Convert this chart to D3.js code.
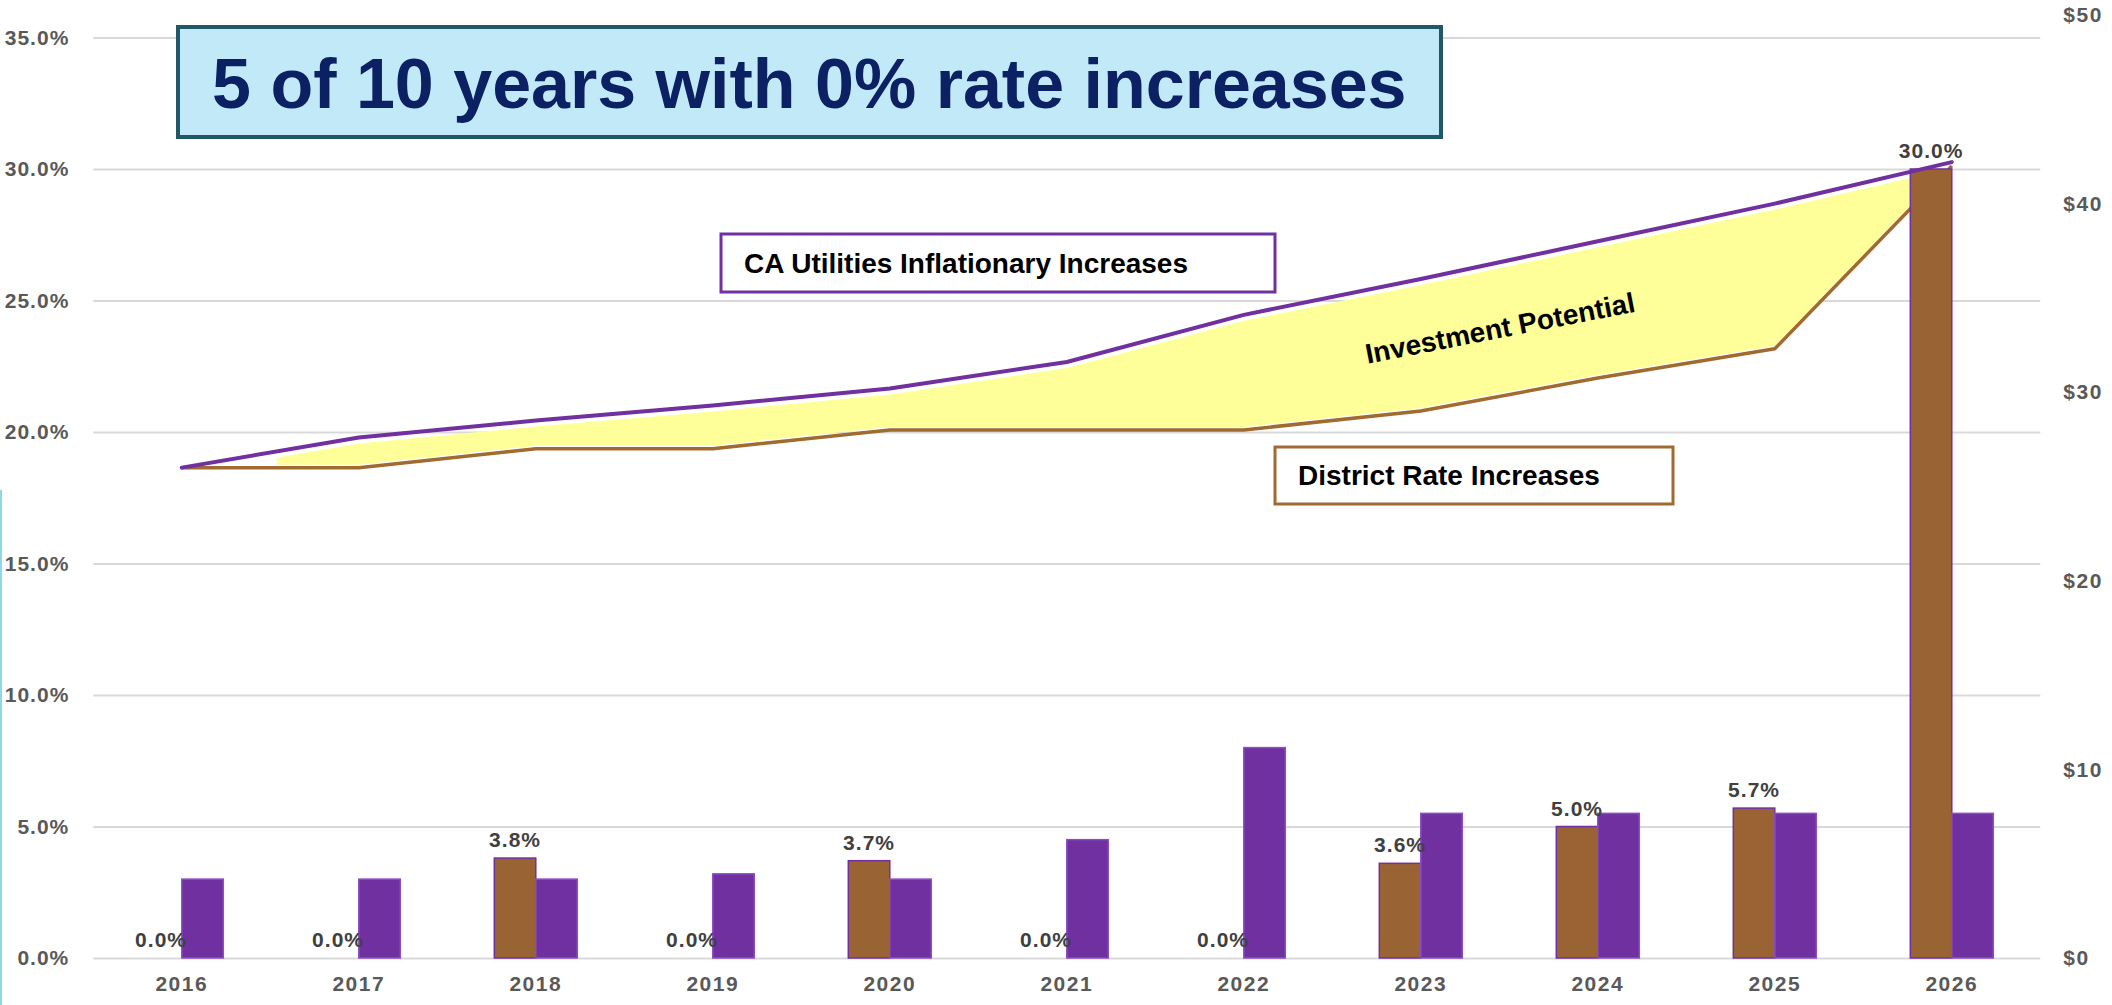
<!DOCTYPE html>
<html><head><meta charset="utf-8">
<script src="https://cdn.jsdelivr.net/npm/d3@7"></script>
<style>
html,body{margin:0;padding:0;background:#fff;}
svg{display:block;}
</style></head>
<body>
<svg id="chart" width="2112" height="1005"></svg>
<script>
// ---- data ----
const years = ["2016","2017","2018","2019","2020","2021","2022","2023","2024","2025","2026"];
const districtRate = [0.0, 0.0, 3.8, 0.0, 3.7, 0.0, 0.0, 3.6, 5.0, 5.7, 30.0];
const utilityRate  = [3.0, 3.0, 3.0, 3.2, 3.0, 4.5, 8.0, 5.5, 5.5, 5.5, 5.5];
const utilityIndex  = [26.0, 27.6, 28.5, 29.3, 30.2, 31.6, 34.1, 36.0, 38.0, 40.0, 42.2];
const districtIndex = [26.0, 26.0, 27.0, 27.0, 28.0, 28.0, 28.0, 29.0, 30.75, 32.3, 42.0];
const leftTicks  = [0, 5, 10, 15, 20, 25, 30, 35];
const rightTicks = [0, 10, 20, 30, 40, 50];
const seriesKeys = ["district", "utility"];
const titleText = "5 of 10 years with 0% rate increases";
const utilityLabel = "CA Utilities Inflationary Increases";
const districtLabel = "District Rate Increases";
const gapLabel = "Investment Potential";

const rows = years.map((y, i) => ({year: y, district: districtRate[i], utility: utilityRate[i],
  uIdx: utilityIndex[i], dIdx: districtIndex[i]}));

// ---- layout ----
const svg = d3.select("#chart");
const left = 93.3, right = 2040.3, bottom = 958;
const BROWN = "#9A6333", PURPLE = "#7030A0";
const arial = "'Liberation Sans', Arial, sans-serif";

function tickStyle(sel, size, ls) {
  sel.attr("fill", "#595959").style("font-family", arial)
    .style("font-weight", "bold").style("font-size", size + "px")
    .style("letter-spacing", ls + "px");
}

const x = d3.scaleBand().domain(years).range([left, right]).padding(0);
const x1 = d3.scaleBand().domain(seriesKeys).range([-41.5, 41.5]);
const yL = d3.scaleLinear().domain([0, 35]).range([bottom, 37.5]);
const yR = d3.scaleLinear().domain([0, 50]).range([bottom, 15]);
const cx = d => x(d.year) + x.bandwidth() / 2;

// decorative cyan edge
svg.append("line").attr("x1", 1).attr("x2", 1).attr("y1", 490).attr("y2", 1005)
  .attr("stroke", "#8ED8E8").attr("stroke-width", 2);

// left axis + gridlines
const gL = svg.append("g").attr("transform", `translate(${left},0)`)
  .call(d3.axisLeft(yL).tickValues(leftTicks).tickFormat(d => d.toFixed(1) + "%")
    .tickSize(-(right - left)).tickPadding(24));
gL.select(".domain").remove();
gL.selectAll("line").attr("stroke", "#D9D9D9").attr("stroke-width", 2);
tickStyle(gL.selectAll("text"), 21, 1);

// right axis
const gR = svg.append("g").attr("transform", `translate(${right},0)`)
  .call(d3.axisRight(yR).tickValues(rightTicks).tickFormat(d => "$" + d)
    .tickSize(0).tickPadding(23));
gR.select(".domain").remove();
tickStyle(gR.selectAll("text"), 21, 1.5);

// bottom axis
const gB = svg.append("g").attr("transform", `translate(0,${bottom})`)
  .call(d3.axisBottom(x).tickSize(0).tickPadding(18));
gB.select(".domain").remove();
tickStyle(gB.selectAll("text"), 21, 1.5);

// yellow "investment potential" band
svg.append("clipPath").attr("id", "bandClip").append("rect")
  .attr("x", 277).attr("y", 0).attr("width", 1909 - 277).attr("height", 1005);
svg.append("path").datum(rows)
  .attr("clip-path", "url(#bandClip)")
  .attr("fill", "#FFFF99")
  .attr("d", d3.area().x(cx).y0(d => yR(d.dIdx) - 3).y1(d => yR(d.uIdx) + 6));

// district line (behind bars)
svg.append("path").datum(rows).attr("fill", "none").attr("stroke", "#A06A30")
  .attr("stroke-width", 3.5).attr("stroke-linejoin", "round")
  .attr("d", d3.line().x(cx).y(d => yR(d.dIdx)));

// bars
const grp = svg.append("g").selectAll("g").data(rows).join("g")
  .attr("transform", d => `translate(${cx(d)},0)`);
grp.selectAll("rect").data(d => seriesKeys.map(k => ({key: k, v: d[k]}))).join("rect")
  .attr("x", d => x1(d.key)).attr("width", x1.bandwidth())
  .attr("y", d => yL(d.v)).attr("height", d => bottom - yL(d.v))
  .attr("fill", d => d.key === "district" ? BROWN : PURPLE)
  .attr("stroke", d => d.v > 0 ? (d.key === "district" ? PURPLE : "#8A4FC4") : "none")
  .attr("stroke-width", 1.5);

// data labels for district bars
const lbl = grp.append("text")
  .attr("x", x1("district") + x1.bandwidth() / 2)
  .attr("y", d => yL(d.district) - 11)
  .attr("text-anchor", "middle")
  .text(d => d.district.toFixed(1) + "%");
tickStyle(lbl, 21, 1);
lbl.attr("fill", "#404040");

// utility line (on top)
svg.append("path").datum(rows).attr("fill", "none").attr("stroke", PURPLE)
  .attr("stroke-width", 4).attr("stroke-linejoin", "round").attr("stroke-linecap", "round")
  .attr("d", d3.line().x(cx).y(d => yR(d.uIdx)));

// annotation boxes
function box(x0, y0, w, h, stroke, sw, fill) {
  svg.append("rect").attr("x", x0).attr("y", y0).attr("width", w).attr("height", h)
    .attr("fill", fill).attr("stroke", stroke).attr("stroke-width", sw);
}
box(178, 27, 1263, 110, "#215868", 4, "#C2E9F8");
svg.append("text").attr("x", 212).attr("y", 108)
  .attr("fill", "#0B2163").style("font-family", arial).style("font-weight", "bold")
  .style("font-size", "70px").text(titleText);

box(721, 234, 554, 58, PURPLE, 3, "#fff");
svg.append("text").attr("x", 744).attr("y", 273)
  .attr("fill", "#000").style("font-family", arial).style("font-weight", "bold")
  .style("font-size", "28px").text(utilityLabel);

box(1275, 447, 398, 57, "#A06A30", 3, "#fff");
svg.append("text").attr("x", 1298).attr("y", 485)
  .attr("fill", "#000").style("font-family", arial).style("font-weight", "bold")
  .style("font-size", "28px").text(districtLabel);

svg.append("text").attr("transform", "translate(1500,328) rotate(-11)")
  .attr("text-anchor", "middle").attr("dy", "0.35em")
  .attr("fill", "#000").style("font-family", arial).style("font-weight", "bold")
  .style("font-size", "28px").text(gapLabel);
</script>
</body></html>
